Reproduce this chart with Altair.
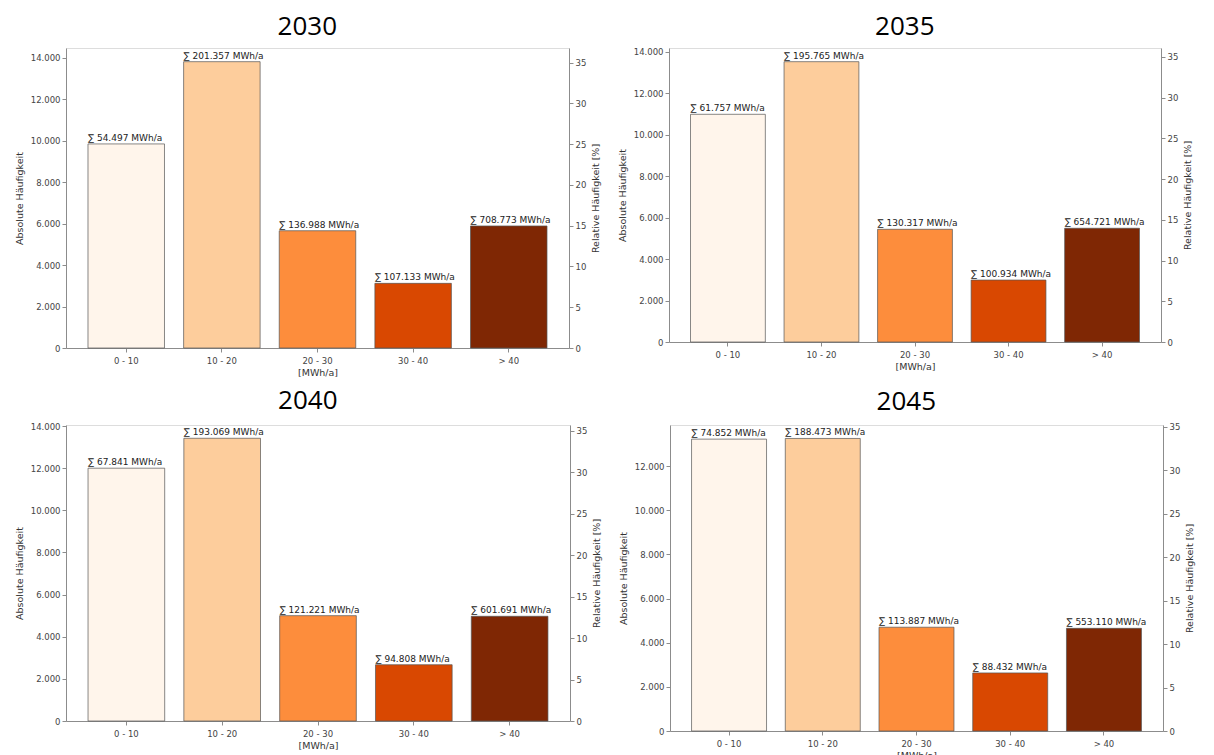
import altair as alt
import pandas as pd

categories = ["0 - 10", "10 - 20", "20 - 30", "30 - 40", "> 40"]
bar_colors = ["#fff5eb", "#fdcd9c", "#fd8d3c", "#d94801", "#7f2704"]

years = ["2030", "2035", "2040", "2045"]
counts_2030 = [9850, 13820, 5660, 3120, 5890]
counts_2035 = [10990, 13530, 5440, 2990, 5490]
counts_2040 = [12000, 13420, 5000, 2670, 4970]
counts_2045 = [13220, 13250, 4700, 2630, 4650]

sums_2030 = ["54.497", "201.357", "136.988", "107.133", "708.773"]
sums_2035 = ["61.757", "195.765", "130.317", "100.934", "654.721"]
sums_2040 = ["67.841", "193.069", "121.221", "94.808", "601.691"]
sums_2045 = ["74.852", "188.473", "113.887", "88.432", "553.110"]

left_max = [14480, 14190, 14050, 13860]
right_max = [36.8, 36.1, 35.7, 35.2]
abs_ticks = [0, 2000, 4000, 6000, 8000, 10000, 12000, 14000]
rel_ticks = [0, 5, 10, 15, 20, 25, 30, 35]

widths = [503, 492, 504, 493]
heights = [300, 294, 296, 306]

FONT = "DejaVu Sans"
AX = "#8c8c8c"
LBL = "#444444"


def panel(year, counts, sums, w, h, ymax, rmax):
    total = sum(counts)
    df = pd.DataFrame({
        "cat": categories,
        "count": counts,
        "rel": [c / total * 100 for c in counts],
        "label": ["\u2211 " + s + " MWh/a" for s in sums],
        "color": bar_colors,
    })
    xenc = alt.X(
        "cat:N", sort=categories,
        scale=alt.Scale(paddingInner=0.2, paddingOuter=0.23),
        axis=alt.Axis(title="[MWh/a]", labelAngle=0, labelFontSize=8.5, labelColor=LBL,
                      titleFontSize=9.5, titleFontWeight="normal", titleColor="#333",
                      titlePadding=3, tickSize=4, domainColor=AX, tickColor=AX,
                      labelFont=FONT, titleFont=FONT, labelPadding=4),
    )
    yscale = alt.Scale(domain=[0, ymax], nice=False, zero=True)
    bars = alt.Chart(df).mark_bar(stroke="#555555", strokeWidth=1, strokeOpacity=0.7).encode(
        x=xenc,
        y=alt.Y("count:Q", scale=yscale,
                axis=alt.Axis(title="Absolute Häufigkeit", values=[v for v in abs_ticks if v <= ymax],
                              labelExpr="replace(format(datum.value, ','), ',', '.')",
                              labelFontSize=8.5, labelColor=LBL, titleFontSize=9.5,
                              titleFontWeight="normal", titleColor="#333", grid=False,
                              domainColor=AX, tickColor=AX, tickSize=4,
                              labelFont=FONT, titleFont=FONT, titlePadding=6)),
        color=alt.Color("color:N", scale=None),
    )
    text = alt.Chart(df).mark_text(align="left", baseline="bottom", dy=-1, fontSize=9,
                                   font=FONT, color="#222222").encode(
        x=alt.X("cat:N", sort=categories, bandPosition=0),
        y=alt.Y("count:Q", scale=yscale),
        text="label:N",
    )
    right = alt.Chart(df).mark_bar(opacity=0).encode(
        x=alt.X("cat:N", sort=categories),
        y=alt.Y("rel:Q", scale=alt.Scale(domain=[0, rmax], nice=False, zero=True),
                axis=alt.Axis(orient="right", title="Relative Häufigkeit [%]", values=rel_ticks,
                              labelFontSize=8.5, labelColor=LBL, titleFontSize=9.5,
                              titleFontWeight="normal", titleColor="#333", grid=False,
                              domainColor=AX, tickColor=AX, tickSize=4, titleAngle=270,
                              titleBaseline="top",
                              labelFont=FONT, titleFont=FONT, titlePadding=5)),
    )
    return alt.layer(alt.layer(bars, text), right).resolve_scale(y="independent").properties(
        width=w, height=h,
        title=alt.TitleParams(year, fontSize=26, font="Open Sans", fontWeight="normal",
                              color="#000000", frame="bounds", anchor="middle", offset=8),
    )


p1 = panel(years[0], counts_2030, sums_2030, widths[0], heights[0], left_max[0], right_max[0])
p2 = panel(years[1], counts_2035, sums_2035, widths[1], heights[1], left_max[1], right_max[1])
p3 = panel(years[2], counts_2040, sums_2040, widths[2], heights[2], left_max[2], right_max[2])
p4 = panel(years[3], counts_2045, sums_2045, widths[3], heights[3], left_max[3], right_max[3])

chart = alt.vconcat(
    alt.hconcat(p1, p2, spacing=15),
    alt.hconcat(p3, p4, spacing=15),
    spacing=9,
).configure_view(stroke=AX, strokeWidth=1.2).configure(background="white")

chart.save("out.html", embed_options={"renderer": "svg", "actions": False})
